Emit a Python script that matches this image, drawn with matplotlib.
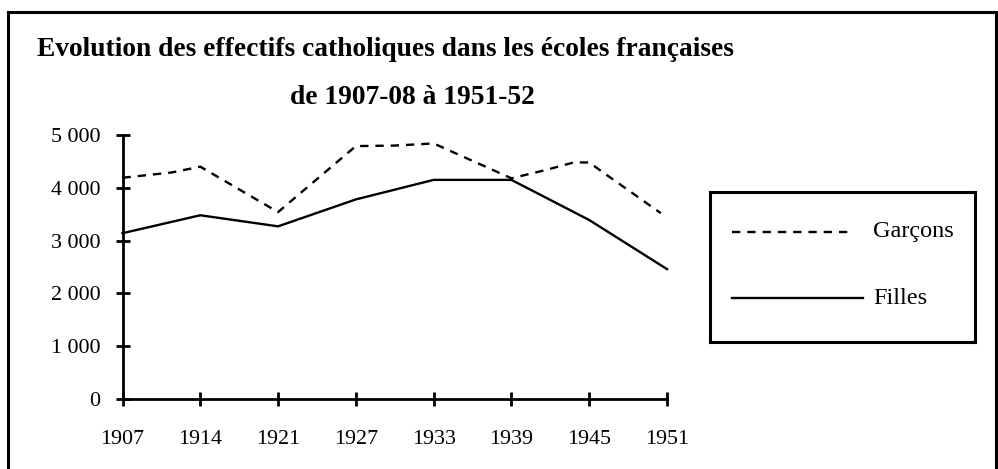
import matplotlib
matplotlib.use("Agg")
import matplotlib.pyplot as plt
from matplotlib.lines import Line2D
from matplotlib.patches import Rectangle
from matplotlib.ticker import FuncFormatter

# category axis: 8 labelled years, equally spaced
years = ["1907", "1914", "1921", "1927", "1933", "1939", "1945", "1951"]

# Filles: one value per labelled year
filles = [3140, 3480, 3270, 3780, 4150, 4150, 3390, 2460]

# Garçons: read at category positions (some in-between kinks)
garcons_pos = [0, 0.63, 1, 2, 3, 3.5, 4, 5, 5.45, 5.8, 6, 6.17, 6.92]
garcons = [4190, 4290, 4400, 3540, 4790, 4800, 4840, 4180, 4340, 4480, 4480, 4300, 3520]

plt.rcParams['font.family'] = ['Liberation Serif', 'DejaVu Serif']
plt.rcParams['lines.scale_dashes'] = False

W, H = 998, 469
fig = plt.figure(figsize=(W / 100, H / 100), dpi=100)

# outer frame
fig.patches.append(Rectangle((8 / W, -0.1), (996 - 8) / W, 1.1 - 12 / H,
                             transform=fig.transFigure, fill=False,
                             edgecolor='black', linewidth=2.2))

fig.text(37 / W, 1 - 50 / H, "Evolution des effectifs catholiques dans les écoles françaises",
         fontsize=19.8, fontweight='bold', ha='left', va='center')
fig.text(412 / W, 1 - 97 / H, "de 1907-08 à 1951-52",
         fontsize=19.8, fontweight='bold', ha='center', va='center')

ax = fig.add_axes([122.5 / W, 1 - 399 / H, (667 - 122.5) / W, (399 - 135) / H])
x = list(range(len(years)))
ax.plot(garcons_pos, garcons, color='black', lw=1.7, dashes=(6, 5), clip_on=False)
ax.plot(x, filles, color='black', lw=1.7, clip_on=False)

ax.set_xlim(0, len(years) - 1)
ax.set_ylim(0, 5000)
ax.set_xticks(x)
ax.set_xticklabels(years)
ax.set_yticks(range(0, 5001, 1000))
ax.yaxis.set_major_formatter(FuncFormatter(lambda v, p: f"{v:,.0f}".replace(",", " ")))
ax.spines[['top', 'right']].set_visible(False)
for s in ['left', 'bottom']:
    ax.spines[s].set_linewidth(2)
ax.tick_params(direction='inout', length=10, width=2, labelsize=15.8)
ax.tick_params(axis='y', pad=11)
ax.tick_params(axis='x', pad=17)
ax.patch.set_visible(False)

# legend box
lax = fig.add_axes([710 / W, 1 - 342 / H, 265 / W, 150 / H])
lax.set_xlim(0, 265)
lax.set_ylim(150, 0)
lax.set_xticks([])
lax.set_yticks([])
for s in lax.spines.values():
    s.set_linewidth(2.2)
lax.add_line(Line2D([22, 142], [40, 40], color='black', lw=1.7, dashes=(6, 5)))
lax.add_line(Line2D([22, 153], [106, 106], color='black', lw=1.7))
lax.text(163, 40, "Garçons", fontsize=17.5, va='center', ha='left')
lax.text(163, 106, "Filles", fontsize=17.5, va='center', ha='left')

fig.savefig("out.png", dpi=100)
